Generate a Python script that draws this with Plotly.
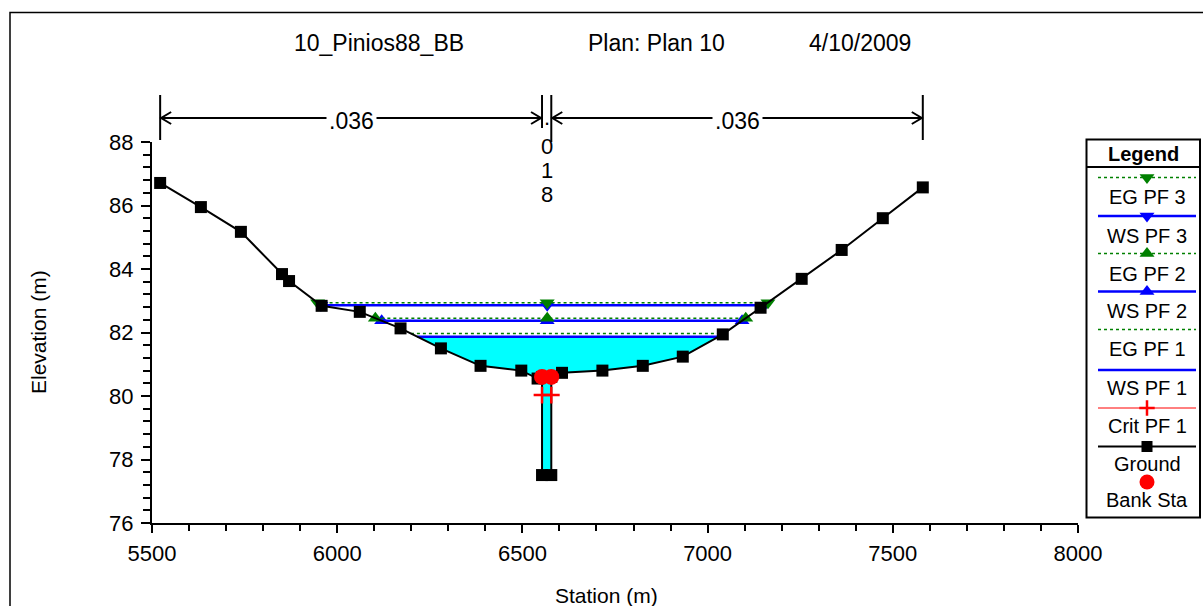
import plotly.graph_objects as go

W, H = 1203, 606

# ---------------- data ----------------
title_parts = ["10_Pinios88_BB", "Plan: Plan 10", "4/10/2009"]

ground_x = [5522, 5632, 5740, 5851, 5870, 5958, 6061, 6171, 6280, 6387, 6497, 6541,
            6553, 6553, 6578, 6578, 6607, 6716, 6825, 6933, 7041, 7143, 7254, 7362, 7473, 7581]
ground_y = [86.71, 85.95, 85.17, 83.84, 83.62, 82.84, 82.65, 82.13, 81.50, 80.95, 80.80, 80.55,
            80.60, 77.51, 77.51, 80.60, 80.73, 80.80, 80.95, 81.24, 81.94, 82.78, 83.69, 84.60, 85.60, 86.57]

bank_x = [6553, 6578]
bank_y = [80.60, 80.60]

crit_x = [6553, 6578]
crit_y = [80.03, 80.03]

eg3_x = [5947, 6567, 7163]; eg3_y = 82.94
ws3_x = [5956, 6567, 7153]; ws3_y = 82.86
eg2_x = [6103, 6567, 7103]; eg2_y = 82.45
ws2_x = [6120, 6567, 7093]; ws2_y = 82.37
eg1_x = [6199, 7045];       eg1_y = 81.97
ws1_x = [6216, 7030];       ws1_y = 81.87

mann_n = [".036", ".018", ".036"]

x_ticks = [5500, 6000, 6500, 7000, 7500, 8000]
y_ticks = [76, 78, 80, 82, 84, 86, 88]

legend_names = ["EG PF 3", "WS PF 3", "EG PF 2", "WS PF 2", "EG PF 1", "WS PF 1",
                "Crit PF 1", "Ground", "Bank Sta"]

# ---------------- layout constants (pixels) ----------------
PL, PR, PT, PB = 152, 1078, 142, 523
FONT = "Arial, Liberation Sans, sans-serif"
GREEN = "#008000"
BLUE = "#0000FF"
RED = "#FF0000"
CYAN = "#00FFFF"
TRI = 13


def px(x):
    return x / W


def py(y):
    return 1 - y / H


fig = go.Figure()

# water fill (WS PF 1 down to ground)
fx = [ws1_x[0]] + [gx for gx in ground_x if ws1_x[0] < gx < ws1_x[-1]] + [ws1_x[-1]]
fy = [ws1_y] + [gy for gx, gy in zip(ground_x, ground_y) if ws1_x[0] < gx < ws1_x[-1]] + [ws1_y]
fig.add_trace(go.Scatter(x=fx, y=fy, fill="toself", fillcolor=CYAN, mode="lines",
                         line=dict(width=0), hoverinfo="skip"))


def wsline(xs, yv, color, dash, width, symbol=None):
    if symbol is None:
        fig.add_trace(go.Scatter(x=xs, y=[yv] * len(xs), mode="lines",
                                 line=dict(color=color, width=width, dash=dash)))
    else:
        fig.add_trace(go.Scatter(x=xs, y=[yv] * len(xs), mode="lines+markers",
                                 line=dict(color=color, width=width, dash=dash),
                                 marker=dict(symbol=symbol, size=TRI, color=color)))


wsline(eg1_x, eg1_y, GREEN, "dot", 1.5)
wsline(ws1_x, ws1_y, BLUE, "solid", 2.5)
wsline(ws2_x, ws2_y, BLUE, "solid", 2.5, "triangle-up")
wsline(eg2_x, eg2_y, GREEN, "dot", 1.5, "triangle-up")
wsline(ws3_x, ws3_y, BLUE, "solid", 2.5, "triangle-down")
wsline(eg3_x, eg3_y, GREEN, "dot", 1.5, "triangle-down")

# ground
fig.add_trace(go.Scatter(x=ground_x, y=ground_y, mode="lines+markers",
                         line=dict(color="black", width=2),
                         marker=dict(symbol="square", size=12, color="black")))
# critical depth
fig.add_trace(go.Scatter(x=crit_x, y=crit_y, mode="lines+markers",
                         line=dict(color=RED, width=1.5),
                         marker=dict(symbol="cross-thin", size=12,
                                     line=dict(color=RED, width=2.5))))
# bank stations
fig.add_trace(go.Scatter(x=bank_x, y=bank_y, mode="markers",
                         marker=dict(symbol="circle", size=16, color=RED)))

# ---------------- legend (drawn on an overlay pixel axis) ----------------
leg_line_y = [177.5, 216, 253.5, 291.5, 329.5, 370, 408, 446.5]
leg_text_y = [197, 235.5, 273.5, 311, 348.5, 388, 425.5, 463.5, 500]
leg_styles = [
    (GREEN, "dot", 1.5, "triangle-down"),
    (BLUE, "solid", 2.5, "triangle-down"),
    (GREEN, "dot", 1.5, "triangle-up"),
    (BLUE, "solid", 2.5, "triangle-up"),
    (GREEN, "dot", 1.5, None),
    (BLUE, "solid", 2.5, None),
    (RED, "solid", 1, "cross-thin"),
    ("black", "solid", 2, "square"),
]
LX0, LX1, LXC = 1098, 1196, 1147
for (col, dash, wd, sym), yl in zip(leg_styles, leg_line_y):
    fig.add_trace(go.Scatter(x=[LX0, LX1], y=[yl, yl], mode="lines",
                             line=dict(color=col, width=wd, dash=dash),
                             xaxis="x2", yaxis="y2"))
    if sym == "cross-thin":
        mk = dict(symbol=sym, size=11, line=dict(color=col, width=2.5))
    elif sym is not None:
        mk = dict(symbol=sym, size=TRI if "triangle" in sym else 11, color=col)
    else:
        continue
    fig.add_trace(go.Scatter(x=[LXC], y=[yl], mode="markers", marker=mk,
                             xaxis="x2", yaxis="y2"))
fig.add_trace(go.Scatter(x=[LXC], y=[482], mode="markers",
                         marker=dict(symbol="circle", size=15, color=RED),
                         xaxis="x2", yaxis="y2"))

shapes = []
annotations = []


def label(text, xref, yref, x, y, size, angle=0, bg=None):
    d = dict(xref=xref, yref=yref, x=x, y=y, text=text, showarrow=False,
             xanchor="center", yanchor="middle", textangle=angle,
             font=dict(family=FONT, size=size, color="black"))
    if bg:
        d.update(bgcolor=bg, borderpad=2)
    annotations.append(d)


# legend box
shapes.append(dict(type="rect", xref="x2", yref="y2", x0=1086.5, x1=1200, y0=139.5, y1=517.5,
                   line=dict(color="black", width=2), layer="above"))
shapes.append(dict(type="line", xref="x2", yref="y2", x0=1086.5, x1=1200, y0=167, y1=167,
                   line=dict(color="black", width=2), layer="above"))
label("<b>Legend</b>", "x2", "y2", 1143, 153.5, 20)
for name, yt in zip(legend_names, leg_text_y):
    label(name, "x2", "y2", LXC, yt, 20)

# outer frame
shapes.append(dict(type="rect", xref="paper", yref="paper", x0=px(10), x1=px(W + 20),
                   y0=py(H + 20), y1=py(12.5), line=dict(color="black", width=1.5)))

# Manning's n bars and arrows
BAR_TOP, BAR_BOT, ARR_Y = 95, 140, 118
bars = [ground_x[0], bank_x[0], bank_x[1], ground_x[-1]]
bar_bottoms = [BAR_BOT, 128, 142, BAR_BOT]
for bx, bb in zip(bars, bar_bottoms):
    shapes.append(dict(type="line", xref="x", yref="paper", x0=bx, x1=bx,
                       y0=py(BAR_TOP), y1=py(bb), line=dict(color="black", width=2)))
segments = [(bars[0], bars[1]), (bars[2], bars[3])]
for (a, b), lab in zip(segments, [mann_n[0], mann_n[2]]):
    shapes.append(dict(type="line", xref="x", yref="paper", x0=a, x1=b,
                       y0=py(ARR_Y), y1=py(ARR_Y), line=dict(color="black", width=2)))
    shapes.append(dict(type="path", xref="x", yref="paper", xsizemode="pixel", ysizemode="pixel",
                       xanchor=a, yanchor=py(ARR_Y), path="M 11 6 L 1 0 L 11 -6",
                       line=dict(color="black", width=2)))
    shapes.append(dict(type="path", xref="x", yref="paper", xsizemode="pixel", ysizemode="pixel",
                       xanchor=b, yanchor=py(ARR_Y), path="M -11 6 L -1 0 L -11 -6",
                       line=dict(color="black", width=2)))
    label(lab, "x", "paper", (a + b) / 2, py(ARR_Y + 3), 23, bg="white")
# middle (narrow) segment: its value is written vertically, one character per line
mid = (bars[1] + bars[2]) / 2
chars = list(mann_n[1])
label(chars[0] + "<br>" + chars[1], "x", "paper", mid, py(132), 22)
for ch, yy in zip(chars[2:], [170.5, 194.5]):
    label(ch, "x", "paper", mid, py(yy), 22)

# title
for txt, cx in zip(title_parts, [379, 656, 860]):
    label(txt, "paper", "paper", px(cx), py(43), 23)
# axis titles
label("Station (m)", "paper", "paper", px(606), py(595), 21)
label("Elevation (m)", "paper", "paper", px(38), py(332), 21, angle=-90)

fig.update_layout(
    template="none",
    width=W, height=H, autosize=False,
    margin=dict(l=0, r=0, t=0, b=0, pad=0, autoexpand=False),
    paper_bgcolor="white", plot_bgcolor="rgba(0,0,0,0)",
    showlegend=False, hovermode=False,
    font=dict(family=FONT, color="black"),
    xaxis=dict(domain=[px(PL), px(PR)], range=[5500, 8000], tickvals=x_ticks, automargin=False,
               ticks="outside", ticklen=8, tickwidth=2, tickcolor="black",
               showline=True, linecolor="black", linewidth=2, showgrid=False, zeroline=False,
               tickfont=dict(family=FONT, size=22, color="black"), ticklabelstandoff=2,
               minor=dict(dtick=100, ticks="outside", ticklen=6, tickwidth=1.5, tickcolor="black",
                          showgrid=False),
               anchor="y"),
    yaxis=dict(domain=[1 - PB / H, 1 - PT / H], range=[76, 88], tickvals=y_ticks, automargin=False,
               ticks="outside", ticklen=9, tickwidth=2, tickcolor="black",
               showline=True, linecolor="black", linewidth=2, showgrid=False, zeroline=False,
               tickfont=dict(family=FONT, size=22, color="black"), ticklabelstandoff=3,
               minor=dict(dtick=0.4, ticks="outside", ticklen=7, tickwidth=1.5, tickcolor="black",
                          showgrid=False),
               anchor="x"),
    xaxis2=dict(domain=[0, 1], range=[0, W], visible=False, anchor="y2", fixedrange=True,
                automargin=False),
    yaxis2=dict(domain=[0, 1], range=[H, 0], visible=False, anchor="x2", fixedrange=True,
                automargin=False),
    shapes=shapes,
    annotations=annotations,
)

fig.write_html("out.html")
